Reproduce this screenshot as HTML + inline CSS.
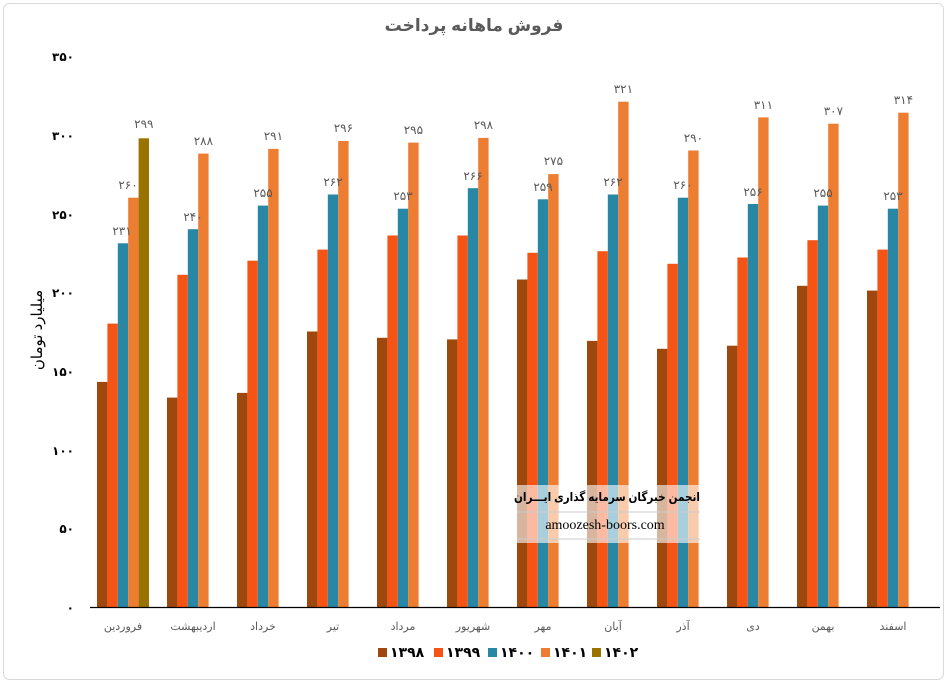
<!DOCTYPE html>
<html><head><meta charset="utf-8"><style>
body{margin:0;background:#fff;}
svg{display:block;font-family:"Liberation Sans","DejaVu Sans",sans-serif;}
.v{font-size:12px;fill:#595959;text-anchor:middle;}
.m{font-size:11px;fill:#595959;text-anchor:middle;}
.y{font-size:12px;font-weight:bold;fill:#000;text-anchor:end;}
</style></head><body>
<svg width="948" height="684" viewBox="0 0 948 684" xmlns="http://www.w3.org/2000/svg">
<rect x="3.5" y="3.5" width="940" height="676" rx="6" fill="#fff" stroke="#d9d9d9"/>
<text x="474" y="31" font-size="17" font-weight="bold" fill="#595959" text-anchor="middle">فروش ماهانه پرداخت</text>
<g class="y">
<text x="74" y="61">۳۵۰</text><text x="74" y="140">۳۰۰</text><text x="74" y="219">۲۵۰</text><text x="74" y="297">۲۰۰</text><text x="74" y="376">۱۵۰</text><text x="74" y="455">۱۰۰</text><text x="74" y="533">۵۰</text><text x="74" y="612">۰</text>
</g>
<text transform="translate(42,330) rotate(-90)" font-size="15" fill="#000" text-anchor="middle">میلیارد تومان</text>
<g fill="#9E480E">
<rect x="97" y="381.9" width="10.4" height="225.1"/><rect x="167" y="397.6" width="10.4" height="209.4"/><rect x="237" y="392.9" width="10.4" height="214.1"/><rect x="307" y="331.5" width="10.4" height="275.5"/><rect x="377" y="337.8" width="10.4" height="269.2"/><rect x="447" y="339.4" width="10.4" height="267.6"/><rect x="517" y="279.5" width="10.4" height="327.5"/><rect x="587" y="340.9" width="10.4" height="266.1"/><rect x="657" y="348.8" width="10.4" height="258.2"/><rect x="727" y="345.7" width="10.4" height="261.3"/><rect x="797" y="285.8" width="10.4" height="321.2"/><rect x="867" y="290.6" width="10.4" height="316.4"/>
</g>
<g fill="#F55414">
<rect x="107.4" y="323.6" width="10.4" height="283.4"/><rect x="177.4" y="274.8" width="10.4" height="332.2"/><rect x="247.4" y="260.7" width="10.4" height="346.3"/><rect x="317.4" y="249.6" width="10.4" height="357.4"/><rect x="387.4" y="235.5" width="10.4" height="371.5"/><rect x="457.4" y="235.5" width="10.4" height="371.5"/><rect x="527.4" y="252.8" width="10.4" height="354.2"/><rect x="597.4" y="251.2" width="10.4" height="355.8"/><rect x="667.4" y="263.8" width="10.4" height="343.2"/><rect x="737.4" y="257.5" width="10.4" height="349.5"/><rect x="807.4" y="240.2" width="10.4" height="366.8"/><rect x="877.4" y="249.6" width="10.4" height="357.4"/>
</g>
<g fill="#2787A5">
<rect x="117.8" y="243.3" width="10.4" height="363.7"/><rect x="187.8" y="229.2" width="10.4" height="377.8"/><rect x="257.8" y="205.6" width="10.4" height="401.4"/><rect x="327.8" y="194.5" width="10.4" height="412.5"/><rect x="397.8" y="208.7" width="10.4" height="398.3"/><rect x="467.8" y="188.2" width="10.4" height="418.8"/><rect x="537.8" y="199.3" width="10.4" height="407.7"/><rect x="607.8" y="194.5" width="10.4" height="412.5"/><rect x="677.8" y="197.7" width="10.4" height="409.3"/><rect x="747.8" y="204" width="10.4" height="403"/><rect x="817.8" y="205.6" width="10.4" height="401.4"/><rect x="887.8" y="208.7" width="10.4" height="398.3"/>
</g>
<g fill="#ED7D31">
<rect x="128.2" y="197.7" width="10.4" height="409.3"/><rect x="198.2" y="153.6" width="10.4" height="453.4"/><rect x="268.2" y="148.9" width="10.4" height="458.1"/><rect x="338.2" y="141" width="10.4" height="466"/><rect x="408.2" y="142.6" width="10.4" height="464.4"/><rect x="478.2" y="137.9" width="10.4" height="469.1"/><rect x="548.2" y="174.1" width="10.4" height="432.9"/><rect x="618.2" y="101.7" width="10.4" height="505.3"/><rect x="688.2" y="150.5" width="10.4" height="456.5"/><rect x="758.2" y="117.4" width="10.4" height="489.6"/><rect x="828.2" y="123.7" width="10.4" height="483.3"/><rect x="898.2" y="112.7" width="10.4" height="494.3"/>
</g>
<rect x="138.6" y="138.3" width="10.4" height="468.7" fill="#997300"/>
<line x1="90" y1="607.5" x2="940" y2="607.5" stroke="#000" stroke-width="1.2"/>
<g class="v">
<text x="122" y="235">۲۳۱</text><text x="128" y="189">۲۶۰</text><text x="143.8" y="128">۲۹۹</text>
<text x="193" y="221">۲۴۰</text><text x="203.4" y="145">۲۸۸</text>
<text x="263" y="197">۲۵۵</text><text x="273.4" y="140">۲۹۱</text>
<text x="333" y="186">۲۶۲</text><text x="343.4" y="132">۲۹۶</text>
<text x="403" y="200">۲۵۳</text><text x="413.4" y="134">۲۹۵</text>
<text x="473" y="180">۲۶۶</text><text x="483.4" y="129">۲۹۸</text>
<text x="543" y="191">۲۵۹</text><text x="553.4" y="165">۲۷۵</text>
<text x="613" y="186">۲۶۲</text><text x="623.4" y="93">۳۲۱</text>
<text x="683" y="189">۲۶۰</text><text x="693.4" y="142">۲۹۰</text>
<text x="753" y="196">۲۵۶</text><text x="763.4" y="109">۳۱۱</text>
<text x="823" y="197">۲۵۵</text><text x="833.4" y="115">۳۰۷</text>
<text x="893" y="200">۲۵۳</text><text x="903.4" y="104">۳۱۴</text>
</g>
<g class="m">
<text x="123" y="630">فروردین</text><text x="193" y="630">اردیبهشت</text><text x="263" y="630">خرداد</text><text x="333" y="630">تیر</text><text x="403" y="630">مرداد</text><text x="473" y="630">شهریور</text><text x="543" y="630">مهر</text><text x="613" y="630">آبان</text><text x="683" y="630">آذر</text><text x="753" y="630">دی</text><text x="823" y="630">بهمن</text><text x="893" y="630">اسفند</text>
</g>
<g font-size="14" font-weight="bold" fill="#000">
<rect x="378" y="648" width="9" height="9" fill="#9E480E"/><text x="390" y="657">۱۳۹۸</text>
<rect x="434" y="648" width="9" height="9" fill="#F55414"/><text x="446" y="657">۱۳۹۹</text>
<rect x="488" y="648" width="9" height="9" fill="#2787A5"/><text x="500" y="657">۱۴۰۰</text>
<rect x="541" y="648" width="9" height="9" fill="#ED7D31"/><text x="553" y="657">۱۴۰۱</text>
<rect x="592" y="648" width="9" height="9" fill="#997300"/><text x="604" y="657">۱۴۰۲</text>
</g>
<rect x="510" y="485" width="192" height="58" fill="#fff" fill-opacity="0.6"/>
<text x="607" y="501" font-size="12" font-weight="bold" fill="#000" text-anchor="middle" textLength="186" lengthAdjust="spacingAndGlyphs">انجمن خبرگان سرمایه گذاری ایـــران</text>
<line x1="517" y1="512" x2="700" y2="512" stroke="#ccc"/>
<text x="605" y="529" font-family="Liberation Serif,serif" font-size="14" fill="#000" text-anchor="middle">amoozesh-boors.com</text>
<line x1="517" y1="539" x2="700" y2="539" stroke="#ccc"/>
</svg>
</body></html>
